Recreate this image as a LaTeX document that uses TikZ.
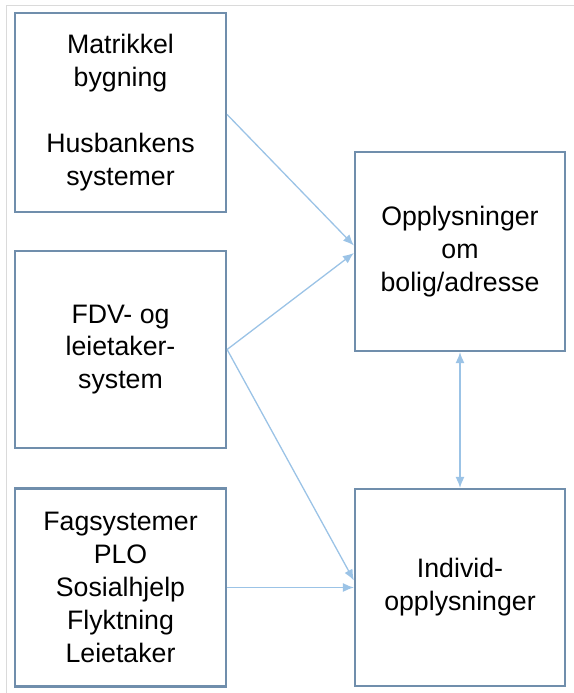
\documentclass[tikz,border=0pt]{standalone}
\usepackage{fontspec}
\setmainfont{Liberation Sans}
\usetikzlibrary{arrows.meta}
\definecolor{boxc}{RGB}{112,142,172}
\definecolor{arr}{RGB}{155,195,230}
\definecolor{frm}{RGB}{218,218,218}
\begin{document}
\begin{tikzpicture}[x=1bp,y=-1bp,
  box/.style={draw=boxc, line width=2.2bp, fill=white, align=center,
    font=\fontsize{26.8}{33}\selectfont, inner sep=0pt},
  conn/.style={draw=arr, line width=1.3bp, -{Latex[length=11bp,width=9bp]}},
  conn2/.style={draw=arr, line width=1.3bp, {Latex[length=11bp,width=9bp]}-{Latex[length=11bp,width=9bp]}}]
\useasboundingbox (0,0) rectangle (574,693);
\draw[frm, line width=1bp] (6,693) -- (6,5.5) -- (574,5.5);
\node[box, minimum width=211bp, minimum height=199bp] (b1) at (120.5,112.5)
  {Matrikkel\\bygning\\[33bp]Husbankens\\systemer};
\node[box, minimum width=211bp, minimum height=197bp] (b2) at (120.5,349.5)
  {FDV- og\\leietaker-\\system};
\node[box, minimum width=211bp, minimum height=198bp] (b3) at (120.5,587.5)
  {Fagsystemer\\PLO\\Sosialhjelp\\Flyktning\\Leietaker};
\node[box, minimum width=210bp, minimum height=199bp] (ba) at (460,251.5)
  {Opplysninger\\om\\bolig/adresse};
\node[box, minimum width=210bp, minimum height=197bp] (bb) at (460,587.5)
  {Individ-\\opplysninger};
\draw[conn] ([yshift=-2bp]b1.east) -- ([yshift=6bp]ba.west);
\draw[conn] (b2.east) -- ([yshift=-1.5bp]ba.west);
\draw[conn] (b2.east) -- ([yshift=7bp]bb.west);
\draw[conn] (b3.east) -- (bb.west);
\draw[conn2] (ba.south) -- (bb.north);
\end{tikzpicture}
\end{document}
